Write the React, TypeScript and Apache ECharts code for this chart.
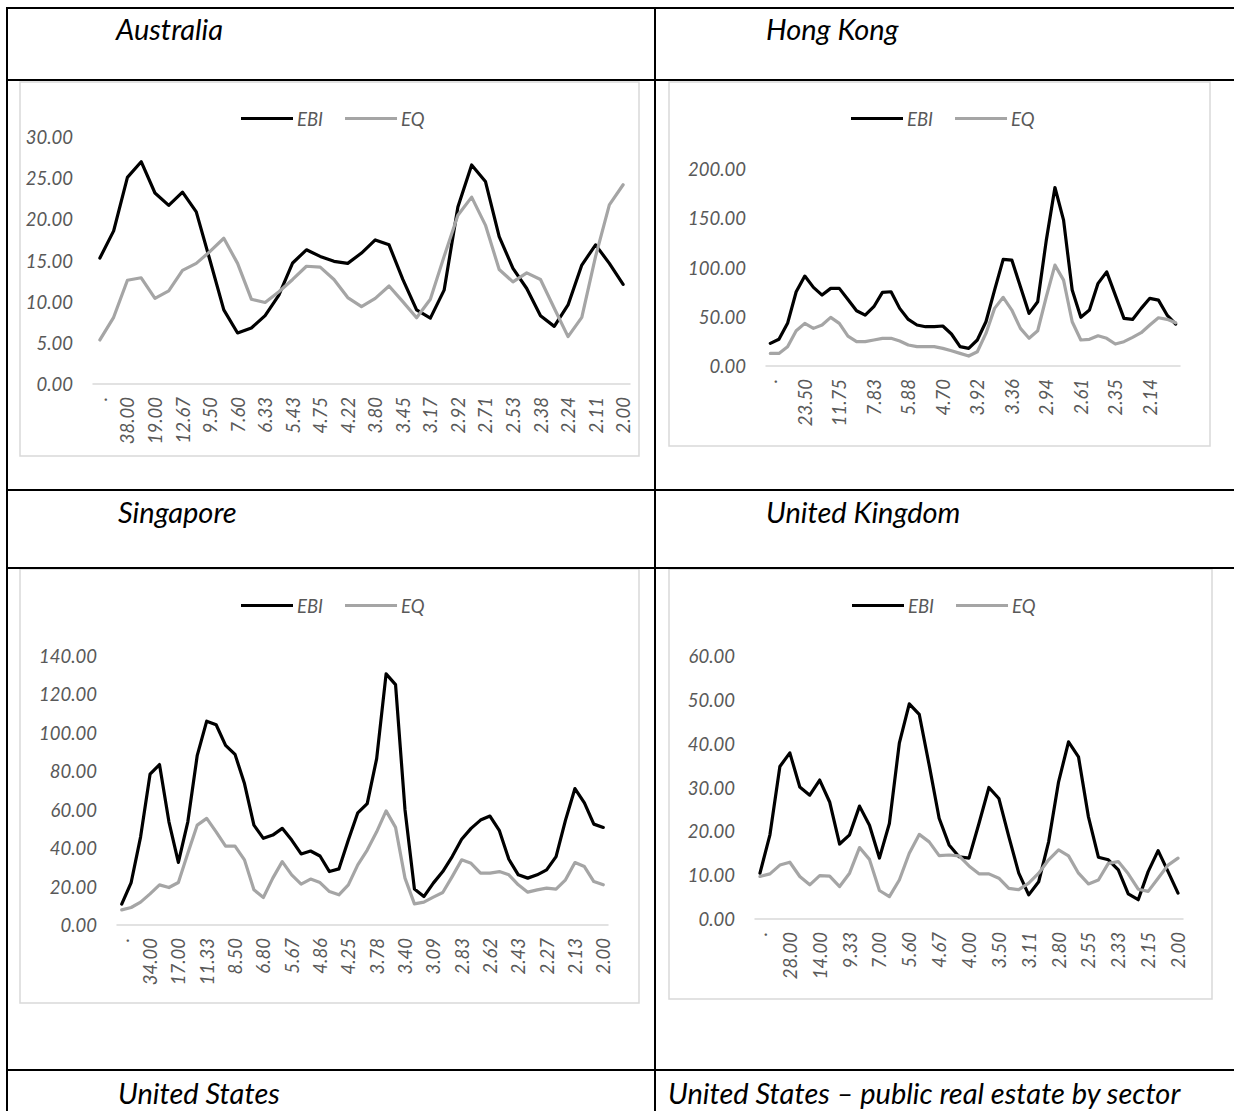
import React, { useEffect, useRef } from "react";
import * as echarts from "echarts";

// ---------- DATA ----------
const ausTicks = [".", "38.00", "19.00", "12.67", "9.50", "7.60", "6.33", "5.43", "4.75", "4.22", "3.80", "3.45", "3.17", "2.92", "2.71", "2.53", "2.38", "2.24", "2.11", "2.00"];
const ausEBI = [15.3, 18.6, 25.1, 27.0, 23.2, 21.7, 23.3, 20.9, 15.0, 9.0, 6.2, 6.8, 8.3, 10.8, 14.7, 16.3, 15.5, 14.9, 14.65, 15.9, 17.5, 16.9, 12.7, 9.0, 8.0, 11.4, 21.5, 26.6, 24.6, 17.9, 14.05, 11.6, 8.3, 7.0, 9.6, 14.45, 16.9, 14.65, 12.1];
const ausEQ = [5.35, 8.1, 12.6, 12.9, 10.4, 11.3, 13.8, 14.65, 16.1, 17.7, 14.65, 10.3, 9.9, 11.2, 12.7, 14.3, 14.2, 12.7, 10.5, 9.4, 10.4, 11.9, 10.0, 8.05, 10.3, 15.5, 20.5, 22.7, 19.3, 13.9, 12.4, 13.5, 12.7, 9.2, 5.75, 8.1, 15.5, 21.75, 24.2];

const hkTicks = [".", "23.50", "11.75", "7.83", "5.88", "4.70", "3.92", "3.36", "2.94", "2.61", "2.35", "2.14"];
const hkEBI = [23.0, 27.1, 43.3, 75.4, 91.3, 79.8, 72.0, 78.8, 78.8, 67.6, 56.1, 51.7, 60.2, 74.7, 75.4, 58.5, 47.3, 41.6, 39.9, 39.9, 40.6, 32.5, 19.6, 17.9, 26.4, 44.9, 77.1, 108.2, 107.5, 80.4, 53.4, 65.2, 127.8, 181.2, 148.1, 77.1, 49.4, 56.8, 83.9, 95.6, 72.0, 48.4, 47.3, 58.5, 68.7, 66.9, 51.7, 42.6];
const hkEQ = [12.8, 12.8, 19.6, 35.8, 43.3, 38.2, 41.6, 49.4, 43.3, 30.4, 24.7, 24.7, 26.4, 28.1, 28.1, 25.4, 21.3, 19.6, 19.6, 19.6, 17.9, 15.5, 12.8, 10.1, 14.5, 33.1, 58.5, 69.7, 56.8, 38.2, 28.1, 35.8, 70.3, 102.4, 87.2, 44.9, 26.4, 27.1, 30.7, 28.1, 22.3, 24.7, 29.1, 33.8, 41.6, 49.0, 47.4, 43.9];

const sgTicks = [".", "34.00", "17.00", "11.33", "8.50", "6.80", "5.67", "4.86", "4.25", "3.78", "3.40", "3.09", "2.83", "2.62", "2.43", "2.27", "2.13", "2.00"];
const sgEBI = [10.9, 22.1, 45.9, 78.5, 83.5, 53.7, 32.6, 53.7, 88.3, 106.1, 104.2, 93.5, 88.8, 73.6, 52.0, 45.1, 46.8, 50.3, 44.2, 37.0, 38.5, 35.9, 27.8, 29.2, 44.2, 58.4, 63.2, 86.6, 130.7, 125.1, 60.0, 18.7, 14.8, 21.8, 27.8, 35.6, 44.6, 50.3, 54.6, 56.7, 49.1, 34.2, 26.1, 24.4, 26.1, 28.7, 35.6, 54.6, 71.0, 63.6, 52.5, 50.8];
const sgEQ = [7.9, 9.1, 11.9, 16.2, 20.9, 19.5, 22.1, 37.3, 52.0, 55.5, 48.5, 41.1, 41.1, 33.9, 18.3, 14.3, 24.4, 33.0, 26.1, 21.3, 23.9, 22.1, 17.4, 15.7, 20.9, 31.3, 39.0, 48.5, 59.4, 50.8, 24.4, 11.0, 11.9, 14.5, 16.9, 25.2, 33.9, 32.1, 27.0, 27.0, 27.8, 26.1, 20.9, 17.1, 18.3, 19.2, 18.7, 23.5, 32.5, 30.4, 22.6, 20.9];

const ukTicks = [".", "28.00", "14.00", "9.33", "7.00", "5.60", "4.67", "4.00", "3.50", "3.11", "2.80", "2.55", "2.33", "2.15", "2.00"];
const ukEBI = [10.45, 19.2, 34.8, 37.9, 30.1, 28.25, 31.7, 26.7, 17.1, 19.2, 25.75, 21.4, 13.9, 21.8, 40.1, 49.1, 46.7, 35.1, 23.0, 16.9, 14.2, 13.9, 21.8, 30.0, 27.5, 18.8, 10.45, 5.5, 8.5, 17.6, 31.3, 40.4, 37.0, 23.3, 14.1, 13.5, 11.2, 5.75, 4.4, 10.8, 15.6, 10.8, 5.9];
const ukEQ = [9.7, 10.3, 12.3, 12.95, 9.7, 7.8, 9.9, 9.8, 7.4, 10.45, 16.3, 13.6, 6.5, 5.1, 8.9, 15.0, 19.3, 17.6, 14.45, 14.6, 14.4, 12.1, 10.3, 10.3, 9.3, 7.0, 6.7, 8.2, 10.45, 13.5, 15.75, 14.4, 10.45, 8.0, 8.9, 12.7, 13.1, 10.3, 6.8, 6.3, 9.3, 12.3, 13.9];

const panelTitles = ["Australia", "Hong Kong", "Singapore", "United Kingdom", "United States", "United States \u2013 public real estate by sector"];
const seriesNames = ["EBI", "EQ"];

// ---------- STYLE ----------
const FONT = "Lato";
const LABEL_COLOR = "#595959";
const EBI_COLOR = "#000000";
const EQ_COLOR = "#a5a5a5";
const BOX_COLOR = "#d9d9d9";

export default function App() {
  const ref = useRef<HTMLDivElement>(null);

  useEffect(() => {
    if (!ref.current) return;
    const chart = echarts.init(ref.current, null, { renderer: "svg" });

    const panels = [
      { ticks: ausTicks, step: 2, ebi: ausEBI, eq: ausEQ, max: 30, interval: 5, grid: { left: 93, top: 137, width: 537, height: 247 }, legend: { left: 241, top: 109 } },
      { ticks: hkTicks, step: 4, ebi: hkEBI, eq: hkEQ, max: 200, interval: 50, grid: { left: 766, top: 169, width: 414, height: 197 }, legend: { left: 851, top: 109 } },
      { ticks: sgTicks, step: 3, ebi: sgEBI, eq: sgEQ, max: 140, interval: 20, grid: { left: 117, top: 656, width: 491, height: 269 }, legend: { left: 241, top: 596 } },
      { ticks: ukTicks, step: 3, ebi: ukEBI, eq: ukEQ, max: 60, interval: 10, grid: { left: 755, top: 656, width: 428, height: 263 }, legend: { left: 852, top: 596 } },
    ];

    const labelFont = { color: LABEL_COLOR, fontFamily: FONT, fontStyle: "italic" as const, fontSize: 18.5 };

    const grids = panels.map((p) => ({ ...p.grid, containLabel: false, outerBoundsMode: "none" }));
    const xAxes = panels.map((p, k) => ({
      type: "category",
      gridIndex: k,
      boundaryGap: true,
      data: p.ebi.map((_, i) => String(i)),
      axisLine: { show: true, lineStyle: { color: BOX_COLOR, width: 1.5 } },
      axisTick: { show: false },
      splitLine: { show: false },
      axisLabel: {
        ...labelFont,
        interval: p.step - 1,
        rotate: 90,
        margin: 13,
        formatter: (_v: string, idx: number) => p.ticks[Math.round(idx / p.step)] ?? "",
      },
    }));
    const yAxes = panels.map((p, k) => ({
      type: "value",
      gridIndex: k,
      min: 0,
      max: p.max,
      interval: p.interval,
      axisLine: { show: false },
      axisTick: { show: false },
      splitLine: { show: false },
      axisLabel: { ...labelFont, margin: 20, formatter: (v: number) => v.toFixed(2) },
    }));
    const series: any[] = [];
    panels.forEach((p, k) => {
      [p.ebi, p.eq].forEach((d, s) => {
        const color = s === 0 ? EBI_COLOR : EQ_COLOR;
        series.push({
          type: "line",
          name: seriesNames[s],
          xAxisIndex: k,
          yAxisIndex: k,
          data: d,
          symbol: "none",
          showSymbol: false,
          itemStyle: { color },
          lineStyle: { color, width: 3.2, cap: "round", join: "round" },
          emphasis: { disabled: true },
        });
      });
    });
    const legends = panels.map((p) => ({
      data: seriesNames,
      left: p.legend.left,
      top: p.legend.top,
      orient: "horizontal",
      padding: 0,
      icon: "rect",
      itemWidth: 52,
      itemHeight: 3,
      itemGap: 22,
      selectedMode: false,
      itemStyle: { borderWidth: 0 },
      textStyle: { ...labelFont, padding: [0, 0, 0, -1] },
    }));

    const black = "#000000";
    const tline = (x1: number, y1: number, x2: number, y2: number, w = 2) => ({
      type: "line",
      silent: true,
      shape: { x1, y1, x2, y2 },
      style: { stroke: black, lineWidth: w },
      z: 1,
    });
    const box = (x1: number, y1: number, x2: number, y2: number) => ({
      type: "rect",
      silent: true,
      shape: { x: x1, y: y1, width: x2 - x1, height: y2 - y1 },
      style: { fill: "#ffffff", stroke: BOX_COLOR, lineWidth: 1.5 },
      z: 0,
    });
    const title = (text: string, x: number, y: number) => ({
      type: "text",
      silent: true,
      x,
      y,
      style: {
        text,
        fill: "#000000",
        fontFamily: FONT,
        fontStyle: "italic",
        fontSize: 29,
        textAlign: "left",
        textVerticalAlign: "middle",
        align: "left",
        verticalAlign: "middle",
      },
      z: 2,
    });

    const graphics = [
      box(20, 82, 639, 456),
      box(669, 82, 1210, 446),
      box(20, 569, 639, 1003),
      box(669, 569, 1212, 999),
      tline(6, 8, 1234, 8),
      tline(6, 80, 1234, 80),
      tline(6, 490, 1234, 490),
      tline(6, 568, 1234, 568),
      tline(6, 1070, 1234, 1070),
      tline(7, 7, 7, 1111),
      tline(655, 7, 655, 1111),
      title(panelTitles[0], 116, 28),
      title(panelTitles[1], 766, 28),
      title(panelTitles[2], 118, 511),
      title(panelTitles[3], 766, 511),
      title(panelTitles[4], 118, 1092),
      title(panelTitles[5], 668, 1092),
    ];

    chart.setOption({
      animation: false,
      backgroundColor: "#ffffff",
      grid: grids,
      xAxis: xAxes,
      yAxis: yAxes,
      legend: legends,
      series,
      graphic: { elements: graphics },
    });

    return () => chart.dispose();
  }, []);

  return <div ref={ref} style={{ position: "absolute", left: 0, top: 0, width: 1234, height: 1111 }} />;
}
